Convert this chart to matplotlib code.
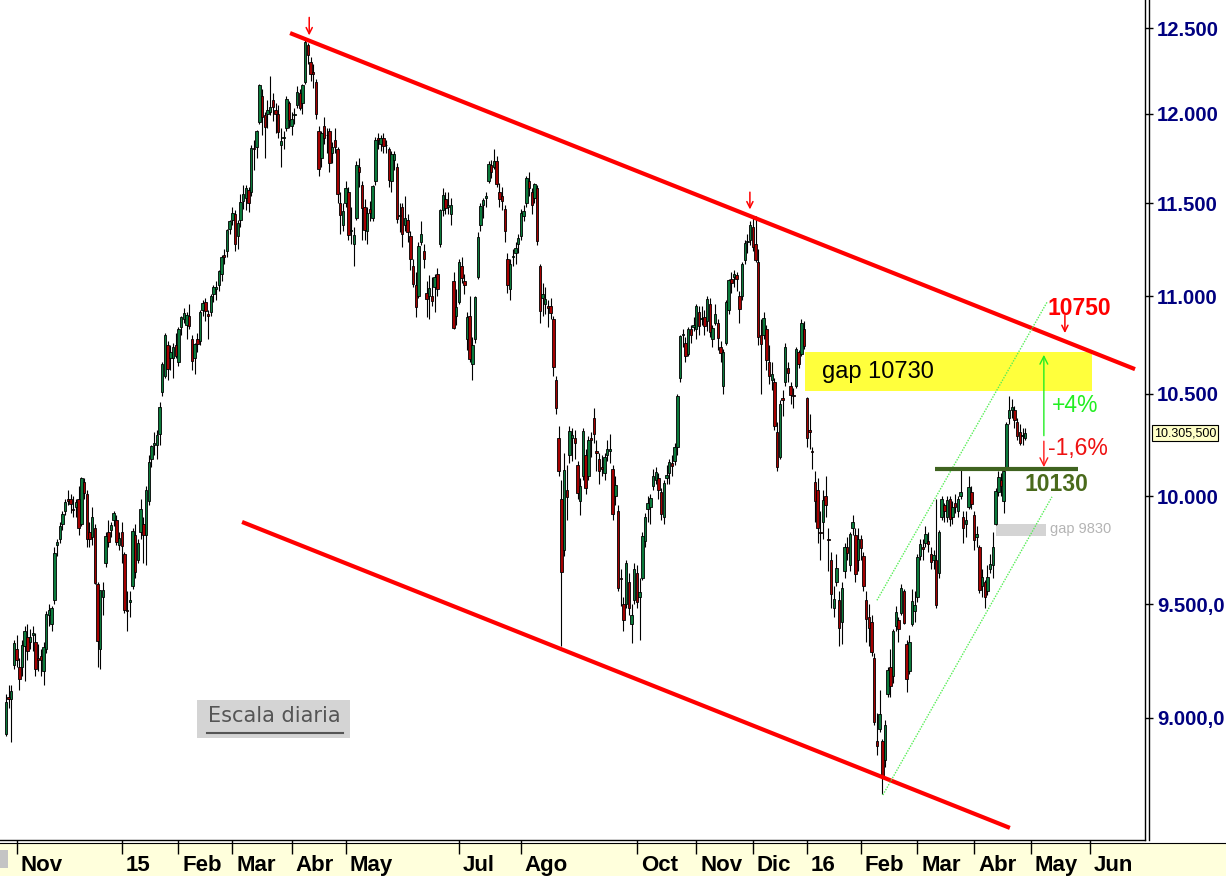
import numpy as np
import pandas as pd
import matplotlib
matplotlib.use("Agg")
import matplotlib.pyplot as plt
from matplotlib.patches import Rectangle
from matplotlib.lines import Line2D
from matplotlib.ticker import FixedLocator, FixedFormatter, NullLocator

plt.rcParams['font.family'] = ['Liberation Sans', 'DejaVu Sans']

# ---------------- daily candles (open, high, low, close) per month ----------------
oct14 = [(8930,9100,8920,9068),(9090,9140,9040,9082),(9080,9140,8895,9114),(9230,9340,9210,9326)]
nov14 = [(9300,9360,9220,9250),(9220,9260,9120,9166),(9220,9340,9180,9315),(9310,9400,9160,9377),(9350,9410,9250,9291),
         (9330,9390,9300,9351),(9360,9400,9290,9369),(9330,9370,9180,9210),(9260,9320,9200,9248),(9270,9300,9180,9252),
         (9200,9330,9140,9306),(9300,9470,9280,9456),(9450,9500,9400,9473),(9410,9490,9380,9483),(9520,9760,9500,9733),
         (9770,9800,9720,9785),(9800,9880,9780,9861),(9870,9930,9840,9915),(9930,9990,9910,9975),(9990,10030,9960,9980)]
dec14 = [(9990,10010,9920,9963),(9940,10000,9900,9934),(9950,9990,9900,9971),(9990,10050,9820,9851),(9870,10093,9860,10087),
         (10070,10090,9990,10014),(10010,10030,9760,9799),(9830,9880,9760,9799),(9810,9950,9770,9903),(9850,9870,9590,9594),
         (9590,9600,9219,9334),(9300,9560,9210,9563),(9530,9600,9450,9564),(9690,9830,9670,9811),(9830,9890,9760,9787),
         (9840,9880,9810,9865),(9890,9930,9860,9923),(9890,9910,9770,9783),(9770,9830,9750,9806)]
jan15 = [(9830,9880,9690,9765),(9730,9740,9460,9473),(9470,9560,9380,9469),(9510,9560,9440,9518),(9580,9850,9570,9838),
         (9820,9870,9620,9648),(9700,9800,9690,9781),(9830,9990,9800,9941),(9870,9900,9690,9817),(9820,10050,9680,10032),
         (9980,10200,9960,10167),(10180,10250,10140,10242),(10250,10310,10200,10257),(10250,10320,10180,10299),(10300,10460,10250,10435),
         (10510,10660,10490,10649),(10590,10810,10580,10798),(10750,10770,10570,10628),(10680,10750,10620,10710),(10680,10760,10580,10738),
         (10750,10810,10680,10694)]
feb15 = [(10660,10840,10640,10828),(10840,10900,10800,10891),(10880,10940,10860,10911),(10850,10920,10780,10905),(10900,10960,10830,10846),
         (10780,10800,10620,10664),(10680,10760,10600,10753),(10780,10810,10710,10752),(10770,10930,10750,10919),(10930,10980,10900,10963),
         (10970,10990,10870,10924),(10910,10930,10780,10896),(10920,11010,10900,11001),(11010,11060,10970,11051),(11040,11080,10980,11050),
         (11060,11140,11030,11131),(11120,11220,11080,11206),(11220,11250,11170,11210),(11240,11360,11210,11352),(11360,11410,11330,11401)]
mar15 = [(11410,11480,11380,11446),(11440,11460,11240,11280),(11320,11410,11250,11390),(11410,11550,11370,11504),(11510,11600,11470,11551),
         (11530,11600,11460,11582),(11570,11590,11450,11500),(11560,11820,11540,11806),(11800,11850,11680,11799),(11810,11910,11750,11901),
         (11950,12170,11940,12167),(12100,12140,11880,11980),(11990,12010,11750,11922),(12000,12080,11920,12019),(12010,12220,11990,12039),
         (12080,12120,11960,12041),(12020,12060,11890,11996),(12000,12050,11860,11895),(11820,11920,11700,11843),(11860,11900,11800,11868),
         (11920,12100,11900,12086),(12060,12070,11920,11966)]
apr15 = [(11930,12010,11880,11968),(11990,12030,11940,12001),(12050,12160,12030,12123),(12120,12140,12020,12035),(12060,12170,12000,12166),
         (12180,12430,12170,12415),(12400,12410,12290,12339),(12300,12330,12190,12227),(12240,12290,12150,12231),(12180,12200,11970,11998),
         (11900,11930,11650,11689),(11750,11900,11700,11892),(11930,11980,11830,11862),(11880,11920,11780,11877),(11900,11920,11670,11723),
         (11780,11840,11720,11811),(11850,11920,11780,11811),(11800,11810,11500,11547),(11500,11560,11330,11432),(11380,11500,11350,11454)]
may15 = [(11500,11620,11480,11583),(11560,11590,11300,11328),(11350,11480,11280,11350),(11280,11370,11160,11327),(11420,11730,11410,11709),
         (11700,11750,11590,11673),(11600,11620,11300,11472),(11480,11520,11300,11351),(11350,11480,11280,11447),(11470,11510,11400,11447),
         (11420,11600,11400,11594),(11620,11870,11600,11853),(11860,11890,11800,11848),(11830,11880,11790,11864),(11860,11890,11780,11815),
         (11820,11850,11780,11820),(11800,11810,11590,11625),(11620,11790,11560,11771),(11740,11790,11680,11772),(11700,11720,11390,11414)]
jun15 = [(11430,11500,11340,11436),(11480,11500,11260,11329),(11380,11540,11350,11419),(11410,11440,11290,11340),(11320,11350,11140,11197),
         (11160,11200,11050,11065),(11060,11130,10890,10944),(11000,11290,10990,11265),(11290,11400,11270,11332),(11240,11280,11150,11197),
         (11020,11080,10890,10984),(11000,11110,10880,11044),(11000,11100,10950,10978),(11050,11120,10920,11100),(11120,11150,11000,11040),
         (11280,11470,11260,11460),(11460,11580,11430,11542),(11520,11560,11440,11471),(11480,11560,11440,11492),(11440,11530,11380,11492),
         (11080,11130,10830,10833),(10900,11040,10850,10945)]
jul15 = [(10970,11200,10960,11181),(11160,11210,11070,11099),(11080,11120,11010,11058),(10780,10920,10720,10891),(10900,11000,10660,10676),
         (10650,10790,10570,10747),(10780,11000,10760,10996),(11100,11340,11090,11316),(11380,11500,11350,11484),(11490,11530,11420,11516),
         (11530,11560,11480,11540),(11620,11730,11610,11716),(11710,11740,11640,11674),(11700,11800,11690,11734),(11730,11760,11590,11604),
         (11560,11610,11480,11521),(11540,11590,11460,11513),(11470,11490,11290,11347),(11200,11230,11020,11057),(11040,11200,10980,11173),
         (11210,11250,11160,11211),(11230,11290,11170,11257),(11280,11330,11230,11309)]
aug15 = [(11320,11470,11300,11444),(11430,11490,11400,11456),(11500,11650,11480,11636),(11620,11670,11540,11585),(11560,11580,11440,11490),
         (11530,11610,11500,11604),(11580,11600,11270,11294),(11160,11170,10860,10925),(10990,11070,10900,11014),(10960,11050,10910,10985),
         (10950,10980,10840,10940),(10950,10990,10880,10915),(10880,10900,10590,10636),(10570,10590,10400,10432),(10280,10340,10100,10124),
         (9990,10080,9310,9648),(9750,10210,9720,10128),(10030,10150,9890,9997),(10200,10340,10160,10315),(10280,10330,10170,10298),
         (10280,10320,10180,10259)]
sep15 = [(10150,10170,9990,10016),(9980,10090,9910,10048),(10100,10330,10080,10318),(10200,10230,10010,10038),(10100,10290,10080,10272),
         (10280,10310,10190,10271),(10380,10430,10260,10303),(10220,10270,10120,10210),(10180,10210,10060,10123),(10140,10200,10100,10132),
         (10110,10210,10080,10188),(10200,10270,10170,10227),(10220,10300,10160,10229),(10130,10150,9890,9916),(10000,10100,9960,10053),
         (9930,9960,9560,9571),(9620,9660,9490,9612),(9500,9530,9380,9428),(9500,9700,9480,9688),(9600,9640,9450,9483),
         (9410,9500,9325,9450),(9520,9690,9500,9660)]
oct15 = [(9640,9680,9480,9509),(9530,9620,9340,9553),(9620,9830,9610,9815),(9790,9920,9760,9902),(9940,10000,9880,9970),
         (9950,10010,9870,9993),(10050,10130,10030,10096),(10080,10140,10060,10119),(10090,10110,9990,10032),(10020,10040,9890,9915),
         (9900,10080,9870,10065),(10090,10150,10060,10104),(10110,10180,10060,10164),(10160,10200,10100,10147),(10170,10260,10150,10238),
         (10240,10500,10200,10491),(10580,10800,10560,10795),(10800,10830,10740,10801),(10760,10790,10660,10692),(10700,10840,10690,10831),
         (10830,10850,10760,10800),(10840,10890,10820,10850)]
nov15 = [(10830,10960,10780,10951),(10920,10950,10800,10845),(10880,10950,10850,10887),(10890,10930,10800,10845),(10870,11000,10820,10988),
         (10960,10990,10790,10815),(10780,10850,10740,10833),(10860,10960,10850,10907),(10860,10880,10720,10783),(10740,10770,10660,10708),
         (10540,10730,10500,10713),(10760,10980,10750,10971),(10930,11090,10910,11085),(11090,11130,11020,11070),(11100,11140,11050,11119),
         (11110,11130,11030,11092),(11000,11030,10860,10934),(11000,11180,10980,11170),(11190,11300,11170,11284),(11290,11330,11230,11293),
         (11300,11400,11270,11382)]
dec15 = [(11370,11420,11240,11261),(11280,11430,11180,11190),(11180,11250,10750,10789),(10800,10880,10500,10752),(10800,10920,10780,10886),
         (10830,10850,10620,10673),(10660,10750,10550,10592),(10570,10660,10520,10598),(10560,10580,10320,10340),(10310,10360,10120,10140),
         (10190,10470,10180,10451),(10480,10520,10390,10470),(10560,10760,10540,10738),(10630,10660,10560,10608),(10540,10560,10450,10497),
         (10490,10530,10430,10489),(10540,10740,10530,10727),(10710,10720,10630,10653),(10700,10880,10690,10860),(10830,10870,10730,10743)]
jan16 = [(10480,10486,10240,10283),(10320,10400,10230,10310),(10220,10240,10130,10214),(10070,10120,9880,9979),(10030,10090,9780,9849),
         (9830,9930,9700,9825),(9880,10030,9800,9985),(10000,10100,9900,9960),(9800,9850,9650,9794),(9700,9740,9480,9545),
         (9480,9580,9440,9521),(9600,9730,9580,9664),(9520,9560,9310,9392),(9420,9600,9320,9574),(9650,9780,9620,9764),
         (9760,9810,9700,9736),(9680,9830,9650,9822),(9850,9910,9820,9880),(9820,9850,9600,9639),(9700,9850,9650,9798)]
feb16 = [(9800,9820,9700,9757),(9720,9740,9560,9581),(9520,9560,9330,9434),(9440,9500,9310,9393),(9420,9450,9270,9286),
         (9260,9280,8970,8979),(8900,9020,8840,8879),(8950,9120,8940,9017),(8900,8910,8680,8752),(8820,8990,8790,8967),
         (9100,9220,9090,9207),(9220,9300,9090,9135),(9180,9390,9150,9377),(9400,9490,9380,9463),(9430,9440,9330,9388),
         (9460,9590,9450,9573),(9560,9570,9410,9416),(9320,9340,9110,9167),(9200,9360,9190,9331),(9410,9570,9400,9513),
         (9470,9560,9420,9495)]
mar16 = [(9530,9730,9510,9717),(9720,9800,9700,9776),(9760,9800,9700,9751),(9780,9860,9760,9824),(9790,9830,9740,9778),
         (9730,9760,9660,9692),(9700,9750,9660,9723),(9700,9990,9480,9498),(9640,9840,9620,9831),(9900,10000,9890,9990),
         (9960,9970,9880,9933),(9900,10000,9880,9983),(9990,10000,9860,9892),(9900,9980,9870,9950),(9970,10010,9920,9948),
         (9930,10000,9900,9990),(10000,10130,9990,10022),(9900,9930,9780,9851),(9870,9930,9810,9887),(9950,10100,9940,10046),
         (10020,10050,9940,9966)]
apr16 = [(9910,9930,9750,9794),(9810,9860,9760,9822),(9760,9770,9550,9563),(9580,9660,9530,9624),(9600,9610,9480,9530),
         (9560,9680,9540,9622),(9660,9730,9640,9682),(9680,9830,9620,9761),(9870,10040,9865,10027),(10020,10120,10000,10094),
         (10080,10110,10000,10051),(9980,10130,9920,10120),(10140,10360,10140,10350),(10380,10490,10350,10421),(10420,10475,10380,10435),
         (10420,10440,10330,10373),(10360,10380,10270,10294),(10310,10350,10250,10260),(10290,10330,10250,10299),(10280,10330,10270,10305)]

months_data = [oct14, nov14, dec14, jan15, feb15, mar15, apr15, may15, jun15, jul15, aug15, sep15,
               oct15, nov15, dec15, jan16, feb16, mar16, apr16]

# exchange holidays (trading calendar)
holidays = ["2014-12-24", "2014-12-25", "2014-12-26", "2014-12-31", "2015-01-01", "2015-04-03", "2015-04-06",
            "2015-05-01", "2015-12-24", "2015-12-25", "2015-12-31", "2016-01-01", "2016-03-25", "2016-03-28"]

# axis text
month_keys = ["2014-11", "2015-01", "2015-02", "2015-03", "2015-04", "2015-05", "2015-07", "2015-08",
              "2015-10", "2015-11", "2015-12", "2016-01", "2016-02", "2016-03", "2016-04", "2016-05", "2016-06"]
month_labels = ["Nov", "15", "Feb", "Mar", "Abr", "May", "Jul", "Ago", "Oct", "Nov", "Dic", "16",
                "Feb", "Mar", "Abr", "May", "Jun"]
y_ticks = [9000, 9500, 10000, 10500, 11000, 11500, 12000, 12500]
y_tick_labels = ["9.000,0", "9.500,0", "10.000", "10.500", "11.000", "11.500", "12.000", "12.500"]
last_price = 10305.5
last_price_label = "10.305,500"

# annotation levels
gap_high = (10515, 10712)
gap_low = (9815, 9870)
support = 10130

# ---------------- build arrays ----------------
rows = [r for m in months_data for r in m]
o = np.array([r[0] for r in rows], float)
h = np.array([r[1] for r in rows], float)
l = np.array([r[2] for r in rows], float)
c = np.array([r[3] for r in rows], float)
n = len(rows)
x = np.arange(n)

cal = pd.bdate_range("2014-10-28", "2016-06-30")
cal = cal[~cal.isin(pd.to_datetime(holidays))]
keys = cal.strftime("%Y-%m")
tick_pos = [int(np.argmax(keys == k)) for k in month_keys]

W, H = 1226, 876
fig = plt.figure(figsize=(W / 100, H / 100), dpi=100)
fig.patch.set_facecolor("white")
fig.patches.append(Rectangle((0, 0), 1, 33 / H, transform=fig.transFigure,
                             facecolor="#ffffdc", edgecolor="none", zorder=-5))
fig.patches.append(Rectangle((0, 8 / H), 8 / W, 18 / H, transform=fig.transFigure,
                             facecolor="#c4c4c4", edgecolor="none", zorder=-4))
fig.add_artist(Line2D([0, 1], [33 / H, 33 / H], transform=fig.transFigure, color="black", lw=0.8, zorder=-3))

ax = fig.add_axes([0, 36 / H, 1145 / W, 840 / H])
ax.set_facecolor("white")
ax.set_yscale("log")
ax.set_xlim(-2.155, 422.4)
ax.set_ylim(8490, 12668)

GREEN, RED = "#0b7a3b", "#a30000"
up = c >= o
colors = np.where(up, GREEN, RED)
ax.vlines(x, l, h, color="black", lw=0.8, zorder=2)
body_lo = np.minimum(o, c)
body_h = np.maximum(np.abs(c - o), 4)
ax.bar(x, body_h, bottom=body_lo, width=0.9, color=colors, edgecolor="black", linewidth=0.6, zorder=3)

# trend channel (red)
ax.plot([105.4, 418.7], [12470, 10625], color="#ff0000", lw=3, solid_capstyle="butt", zorder=4)
ax.plot([87.6, 372.3], [9879, 8539], color="#ff0000", lw=3, solid_capstyle="butt", zorder=4)
# rising channel (light green dotted)
ax.plot([323.0, 386.1], [9517, 10970], color="#55ee55", lw=1, ls=(0, (1, 1)), zorder=4)
ax.plot([325.2, 387.9], [8674, 9998], color="#55ee55", lw=1, ls=(0, (1, 1)), zorder=4)

# small red pointer arrows
for xi, y0, y1 in [(112.5, 12580, 12440), (275.9, 11575, 11450), (392.7, 10915, 10795)]:
    ax.annotate("", xy=(xi, y1), xytext=(xi, y0),
                arrowprops=dict(arrowstyle="->", color="#ff0000", lw=1.1, mutation_scale=11), zorder=6)

# gap zones
ax.add_patch(Rectangle((296.3, gap_high[0]), 402.7 - 296.3, gap_high[1] - gap_high[0],
                       facecolor="#ffff3c", edgecolor="none", zorder=1))
ax.text(302.6, 10610, "gap 10730", fontsize=17, color="black", ha="left", va="center", zorder=5)
ax.add_patch(Rectangle((367.2, gap_low[0]), 385.7 - 367.2, gap_low[1] - gap_low[0],
                       facecolor="#d4d4d4", edgecolor="none", zorder=1))
ax.text(387.2, 9846, "gap 9830", fontsize=10.5, color="#b4b4b4", ha="left", va="center", zorder=5)

# support line
ax.plot([344.5, 397.6], [support, support], color="#3f6320", lw=3, solid_capstyle="butt", zorder=4)
ax.text(377.9, 10055, "10130", fontsize=16.5, fontweight="bold", color="#4a6a1c", ha="left", va="center", zorder=5)

# target arrows
ax.annotate("", xy=(384.9, 10712), xytext=(384.9, 10280),
            arrowprops=dict(arrowstyle="->", color="#22ee22", lw=1, mutation_scale=14), zorder=6)
ax.annotate("", xy=(384.9, 10127), xytext=(384.9, 10280),
            arrowprops=dict(arrowstyle="->", color="#ff1a1a", lw=1, mutation_scale=14), zorder=6)
ax.text(386.4, 10939, "10750", fontsize=16.5, fontweight="bold", color="#ff0000", ha="left", va="center", zorder=5)
ax.text(387.9, 10445, "+4%", fontsize=16.5, color="#22ee22", ha="left", va="center", zorder=5)
ax.text(386.4, 10229, "-1,6%", fontsize=16.5, color="#ee1111", ha="left", va="center", zorder=5)

# "Escala diaria" label
ax.add_patch(Rectangle((70.9, 8913), 127.6 - 70.9, 9076 - 8913, facecolor="#d4d4d4", edgecolor="none", zorder=1))
ax.text(99.6, 9005, "Escala diaria", fontsize=15, color="#555555", ha="center", va="center",
        family="DejaVu Sans", zorder=5)
ax.plot([74.6, 125.0], [8935, 8935], color="#555555", lw=1.5, zorder=5)

# axes / spines
for s in ["left", "top"]:
    ax.spines[s].set_visible(False)
ax.spines["right"].set_linewidth(1)
ax.spines["bottom"].set_linewidth(1)
fig.add_artist(Line2D([1148.5 / W, 1148.5 / W], [36 / H, 1], transform=fig.transFigure, color="black", lw=1))

ax.yaxis.tick_right()
ax.yaxis.set_major_locator(FixedLocator(y_ticks))
ax.yaxis.set_major_formatter(FixedFormatter(y_tick_labels))
ax.yaxis.set_minor_locator(NullLocator())
ax.tick_params(axis="y", which="major", direction="out", length=6, width=1, pad=2.5,
               labelsize=14.6, labelcolor="#000080")
for lbl in ax.get_yticklabels():
    lbl.set_fontweight("bold")

ax.set_xticks(tick_pos)
ax.set_xticklabels([])
ax.xaxis.set_minor_locator(NullLocator())
ax.tick_params(axis="x", which="major", direction="out", length=10, width=1, color="black")
for pos, lab in zip(tick_pos, month_labels):
    ax.annotate(lab, xy=(pos, 0), xycoords=("data", "axes fraction"), xytext=(4, -31),
                textcoords="offset pixels", ha="left", va="baseline", fontsize=16, fontweight="bold",
                color="black", annotation_clip=False, zorder=10)

# last price tag
ax.annotate(last_price_label, xy=(1, last_price), xycoords=("axes fraction", "data"), xytext=(9, 0),
            textcoords="offset pixels", ha="left", va="center", fontsize=9, color="black",
            bbox=dict(boxstyle="square,pad=0.15", fc="#ffffc8", ec="black", lw=0.8), annotation_clip=False)

fig.savefig("out.png", dpi=100)
